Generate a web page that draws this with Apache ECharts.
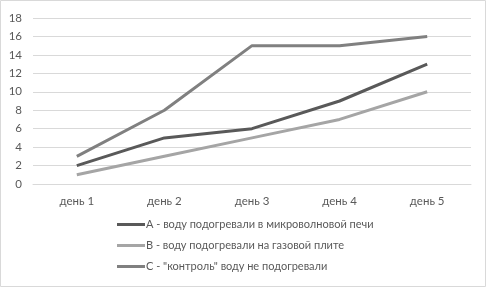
<!DOCTYPE html>
<html>
<head>
<meta charset="utf-8">
<script src="https://cdn.jsdelivr.net/npm/echarts@6/dist/echarts.min.js"></script>
<style>
  html, body { margin: 0; padding: 0; background: #fff; }
  #chart { width: 486px; height: 287px; }
</style>
</head>
<body>
<div id="chart"></div>
<script>
// дни наблюдения
const days = ['день 1', 'день 2', 'день 3', 'день 4', 'день 5'];
// значения по сериям
const seriesA = [2, 5, 6, 9, 13];
const seriesB = [1, 3, 5, 7, 10];
const seriesC = [3, 8, 15, 15, 16];
const names = [
  'А - воду подогревали в микроволновой печи',
  'В - воду подогревали на газовой плите',
  'С - "контроль" воду не подогревали'
];
const colors = ['#595959', '#a5a5a5', '#808080'];

let myChart = echarts.init(document.getElementById('chart'));
const font = 'Lato';

function line(name, data, color) {
  return {
    name: name,
    type: 'line',
    data: data,
    showSymbol: false,
    symbol: 'none',
    lineStyle: { color: color, width: 3 },
    itemStyle: { color: color }
  };
}

let option = {
  animation: false,
  color: colors,
  grid: { left: 33, right: 15, top: 18, bottom: 103, containLabel: false },
  graphic: [{
    type: 'rect',
    shape: { x: 0.5, y: 0.5, width: 485, height: 286 },
    style: { fill: 'none', stroke: '#d9d9d9', lineWidth: 1 },
    silent: true
  }],
  legend: {
    orient: 'vertical',
    left: 112,
    top: 214,
    itemGap: 10,
    itemWidth: 28,
    itemHeight: 3,
    icon: 'rect',
    textStyle: { fontFamily: font, fontSize: 11, color: '#595959', padding: [0, 0, 0, -4] },
    data: names
  },
  xAxis: {
    type: 'category',
    data: days,
    boundaryGap: true,
    axisLine: { show: true, lineStyle: { color: '#d9d9d9' } },
    axisTick: { show: false },
    axisLabel: { fontFamily: font, fontSize: 11.5, color: '#595959', margin: 11 }
  },
  yAxis: {
    type: 'value',
    min: 0,
    max: 18,
    interval: 2,
    axisLine: { show: false },
    axisTick: { show: false },
    axisLabel: { fontFamily: font, fontSize: 11.5, color: '#595959', margin: 11 },
    splitLine: { lineStyle: { color: '#d9d9d9', width: 1 } }
  },
  series: [
    line(names[0], seriesA, colors[0]),
    line(names[1], seriesB, colors[1]),
    line(names[2], seriesC, colors[2])
  ]
};
myChart.setOption(option);
</script>
</body>
</html>
